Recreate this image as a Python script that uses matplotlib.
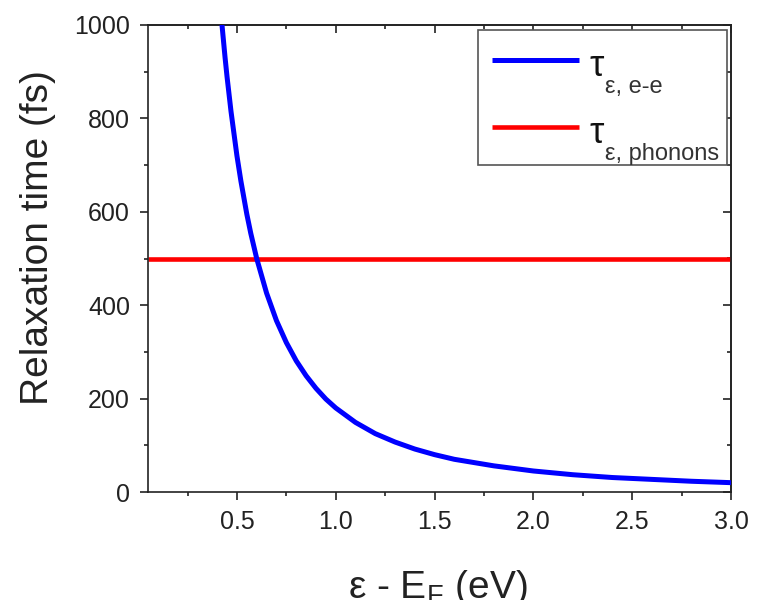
import numpy as np
import matplotlib
matplotlib.use("Agg")
import matplotlib.pyplot as plt
from matplotlib.ticker import MultipleLocator

# energy above the Fermi level [eV]
energy = [0.42, 0.44, 0.45, 0.47, 0.50, 0.52, 0.55, 0.57, 0.60, 0.65, 0.70,
          0.75, 0.80, 0.85, 0.90, 0.95, 1.00, 1.10, 1.20, 1.30, 1.40, 1.50,
          1.60, 1.80, 2.00, 2.20, 2.40, 2.60, 2.80, 3.00]
# electron-electron relaxation time [fs]
tau_ee = [1020, 930, 889, 815, 720, 666, 595, 554, 500, 426, 367,
          320, 281, 249, 222, 199, 180, 149, 125, 107, 92, 80,
          70, 56, 45, 37, 31, 27, 23, 20]
# electron-phonon relaxation time [fs], constant over the range
phonon_x = [0.05, 3.0]
tau_ph = [500, 500]

x_ticks = [0.5, 1.0, 1.5, 2.0, 2.5, 3.0]
y_ticks = [0, 200, 400, 600, 800, 1000]

# subscripts for the legend entries
subs = ['ε, e-e', 'ε, phonons']

plt.rcParams['font.family'] = ['Liberation Sans', 'DejaVu Sans']
plt.rcParams['mathtext.fontset'] = 'custom'
plt.rcParams['mathtext.rm'] = 'Liberation Sans'
plt.rcParams['mathtext.it'] = 'Liberation Sans'
plt.rcParams['mathtext.sf'] = 'Liberation Sans'

fig = plt.figure(figsize=(7.6, 6.0), dpi=100)
ax = fig.add_axes([148 / 760, 108 / 600, 583 / 760, 467 / 600])

ax.plot(energy, tau_ee, color='#0000ff', lw=3.6, solid_capstyle='butt',
        label='τ', zorder=3)
ax.plot(phonon_x, tau_ph, color='#ff0000', lw=3.3, solid_capstyle='butt',
        label='τ', zorder=2)

ax.set_xlim(0.05, 3.0)
ax.set_ylim(0, 1000)
ax.set_xticks(x_ticks)
ax.set_yticks(y_ticks)
ax.set_xticklabels([f'{v:.1f}' for v in x_ticks])
ax.xaxis.set_minor_locator(MultipleLocator(0.25))
ax.yaxis.set_minor_locator(MultipleLocator(100))

edge = '#222222'
for s in ax.spines.values():
    s.set_linewidth(1.2)
    s.set_color(edge)

ax.tick_params(which='major', direction='out', length=6, width=1.2,
               color=edge, labelsize=18, labelcolor='#222222', pad=7)
ax.tick_params(which='minor', direction='out', length=3, width=1.2, color=edge)

# top and right axes carry inward ticks only
top = ax.secondary_xaxis('top')
right = ax.secondary_yaxis('right')
top.set_xticks(x_ticks)
top.xaxis.set_minor_locator(MultipleLocator(0.25))
right.set_yticks(y_ticks)
right.yaxis.set_minor_locator(MultipleLocator(100))
for sec in (top, right):
    sec.tick_params(which='major', direction='in', length=6, width=1.2, color=edge,
                    labeltop=False, labelright=False)
    sec.tick_params(which='minor', direction='in', length=3, width=1.2, color=edge)
    for s in sec.spines.values():
        s.set_linewidth(1.2)
        s.set_color(edge)

# legend box stretched to a fixed width, subscripts hung under each tau
leg = ax.legend(loc='upper left', mode='expand',
                bbox_to_anchor=(478 / 760, 437 / 600, 249 / 760, 133 / 600),
                bbox_transform=fig.transFigure, borderaxespad=0,
                fontsize=26, handlelength=2.4, handleheight=1.33,
                handletextpad=0.3, labelspacing=0.75, borderpad=0.39,
                fancybox=False, framealpha=1, edgecolor='#555555')
leg.get_frame().set_linewidth(1.2)
for txt, sub in zip(leg.get_texts(), subs):
    txt.set_color('#111111')
    ax.annotate(sub, xy=(1, 0), xycoords=txt, xytext=(0.5, -6.5),
                textcoords='offset points', ha='left', va='baseline',
                fontsize=17, color='#333333', zorder=6)

fig.text(38 / 760, 1 - 0.5 * (65 + 410) / 600, 'Relaxation time (fs)',
         rotation=90, ha='center', va='center', fontsize=28, color='#222222')
fig.text(438 / 760, 0.004, r'ε - E$_{\mathrm{F}}$ (eV)', ha='center',
         va='baseline', fontsize=28, color='#222222')

fig.savefig('out.png', dpi=100)
